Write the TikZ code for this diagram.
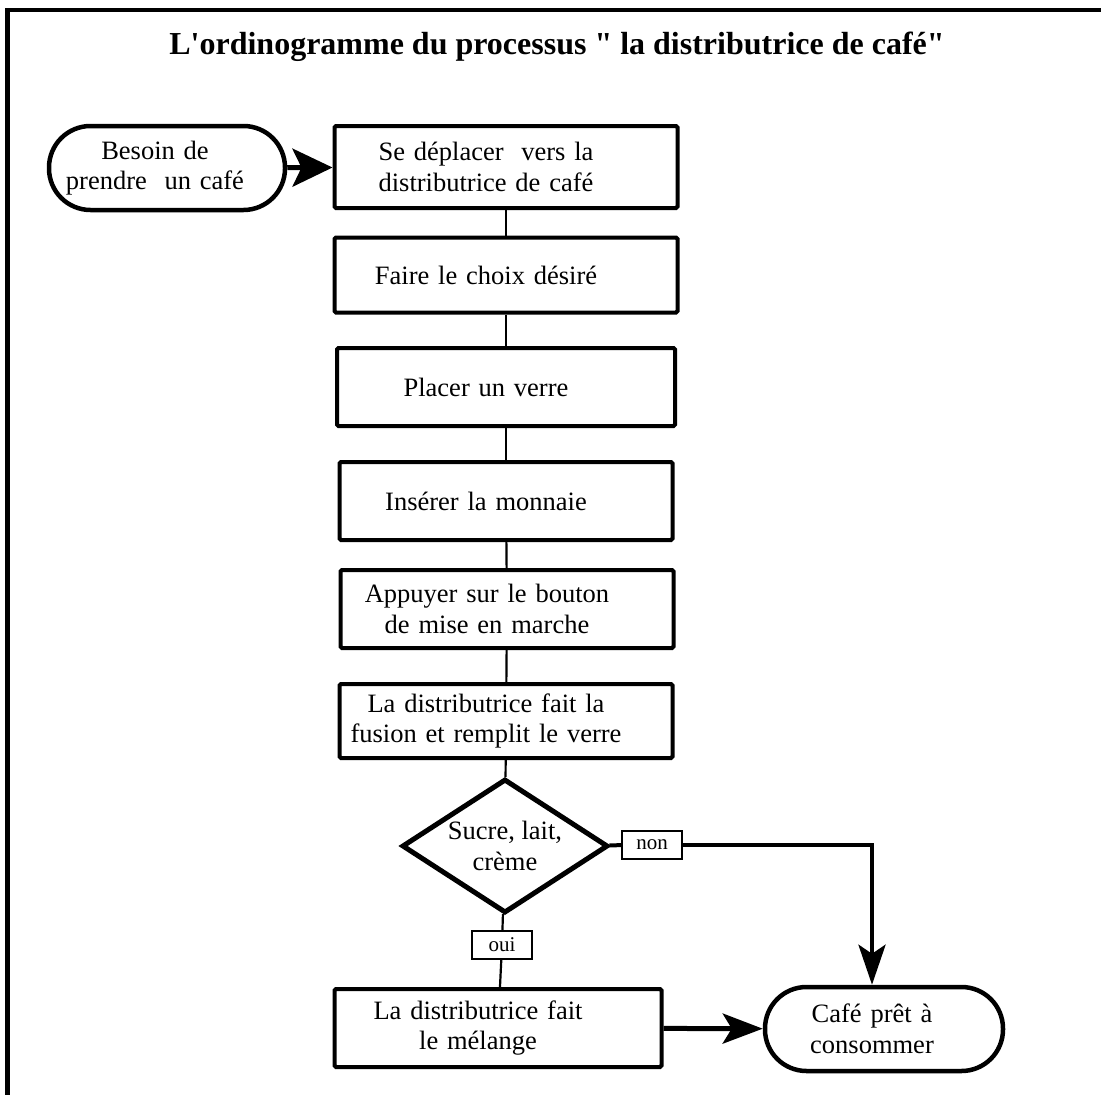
\documentclass[tikz,border=0pt]{standalone}
\usepackage{fontspec}
\setmainfont{Liberation Serif}
\usetikzlibrary{arrows.meta, shapes.geometric, positioning}

\begin{document}
\begin{tikzpicture}[
            x=1pt, y=-1pt,
            every node/.style={font=\fontsize{26.5}{30.5}\selectfont, align=center},
            text shift/.style={text width=#1, execute at begin node={\centering\advance\rightskip by 40pt}},
            process box/.style={draw, line width=4pt, rounded corners=1.5pt, minimum width=#1, minimum height=78pt, inner sep=2pt, text shift=318pt},
            process box/.default=338pt,
            terminal box/.style={draw, line width=4.5pt, rounded corners=41.5pt, minimum width=236pt, minimum height=84pt, text width=220pt,
                execute at begin node={\centering\advance\rightskip by 24pt}},
            decision box/.style={draw, diamond, line width=5pt, aspect=1.54, minimum width=206pt, minimum height=134pt, inner sep=0pt},
            answer label/.style={draw, line width=1.6pt, font=\fontsize{21}{24}\selectfont, minimum width=60pt, minimum height=28pt, inner sep=1pt},
            flow line/.style={line width=2.2pt},
            flow arrow/.style={line width=5pt, -{Stealth[length=40pt, width=#1, inset=9pt]}},
            flow arrow/.default=30pt
        ]
        \useasboundingbox (0,0) rectangle (1101,1095);
        \draw[line width=4.5pt] (7.5,1095) -- (7.5,10) -- (1101,10);

        \node[font=\bfseries\fontsize{32}{36}\selectfont] (title) at (557,47) {L\textquotesingle ordinogramme du processus \textquotedbl{} la distributrice de café\textquotedbl};

        \node[terminal box] (need) at (167,168) {Besoin de\\prendre\ \ un café};
        \node[process box=343pt, minimum height=82pt] (move) at (506,167) {Se déplacer\ \ vers la\\distributrice de café};
        \node[process box=343pt, minimum height=75pt] (choose) at (506,275) {Faire le choix désiré};
        \node[process box] (cup) at (506,387) {Placer un verre};
        \node[process box=333pt] (coins) at (506,501) {Insérer la monnaie};
        \node[process box=333pt] (start) at (507,609) {Appuyer sur le bouton\\de mise en marche};
        \node[process box=333pt, minimum height=74pt] (fusion) at (506,721) {La distributrice fait la\\fusion et remplit le verre};
        \node[decision box] (extras) at (505,846) {Sucre, lait,\\crème};
        \node[answer label] (no) at (652,845) {non};
        \node[answer label] (yes) at (502,945) {oui};
        \node[process box=327pt, text shift=310pt] (mix) at (498,1028) {La distributrice fait\\le mélange};
        \node[terminal box, minimum width=238pt] (ready) at (884,1029) {Café prêt à\\consommer};
        \coordinate (bend) at (872,845);

        \draw[flow arrow=38pt] (need) -- (move);
        \foreach \a/\b in {move/choose, choose/cup, cup/coins, coins/start, start/fusion, fusion/extras, extras/yes, yes/mix}
            \draw[flow line] (\a) -- (\b);
        \draw[line width=4pt] (extras) -- (no);
        \draw[flow arrow=27pt, line width=4.5pt] (no) -- (bend) -- (bend |- ready.north);
        \draw[flow arrow] (mix) -- (ready);
    \end{tikzpicture}
\end{document}
